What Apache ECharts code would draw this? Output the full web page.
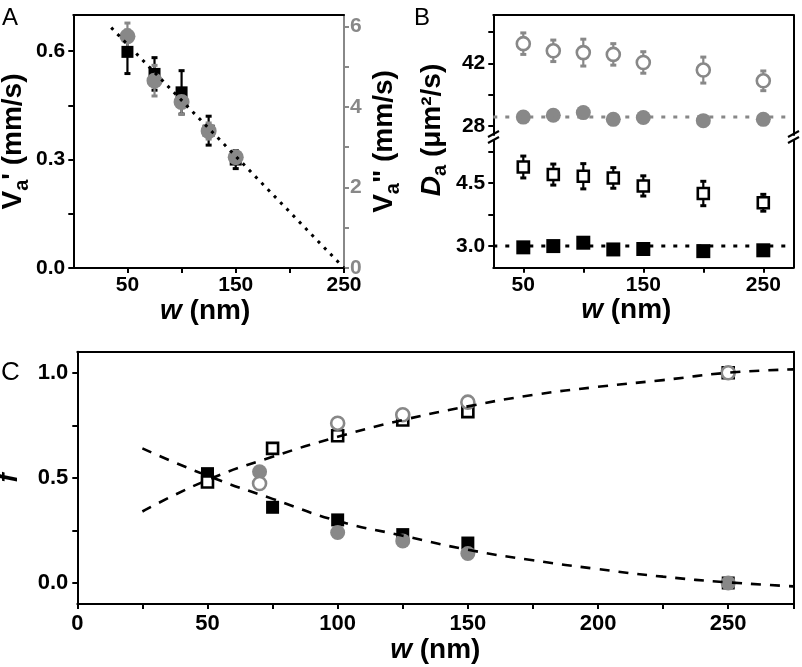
<!DOCTYPE html>
<html>
<head>
<meta charset="utf-8">
<script src="https://cdn.jsdelivr.net/npm/echarts@6/dist/echarts.min.js"></script>
<style>html,body{margin:0;padding:0;background:#fff}#c{width:802px;height:667px}</style>
</head>
<body>
<div id="c"></div>
<script>
// ---------- Panel A ----------
const wA = [50, 75, 100, 125, 150];
const vaPrime = [0.598, 0.537, 0.486, 0.38, 0.30];
const vaPrimeErr = [0.06, 0.045, 0.06, 0.04, 0.025];
const vaDouble = [5.75, 4.65, 4.12, 3.40, 2.75];
const vaDoubleErr = [0.33, 0.38, 0.31, 0.2, 0.15];
const fitAW = [35, 250];
const fitAV = [0.665, 0];
const ticksAX = [50, 100, 150, 200, 250];
const labelsAX = [50, 150, 250];
const ticksAY = [0, 0.15, 0.3, 0.45, 0.6];
const labelsAY = [0, 0.3, 0.6];
const ticksAY2 = [0, 1, 2, 3, 4, 5, 6];
const labelsAY2 = [0, 2, 4, 6];

// ---------- Panel B ----------
const wB = [50, 75, 100, 125, 150, 200, 250];
const dGrayOpen = [46.4, 44.8, 44.4, 44.0, 42.2, 40.5, 38.1];
const dGrayOpenErr = [2.4, 2.4, 3.0, 2.4, 2.4, 2.9, 2.2];
const dGrayFill = [30.0, 30.4, 31.0, 29.5, 29.9, 29.2, 29.5];
const dGrayFillErr = [0.5, 0.5, 1.0, 0.5, 0.5, 1.0, 0.5];
const dGrayLevel = 30.0;
const dBlackOpen = [4.88, 4.70, 4.66, 4.62, 4.43, 4.25, 4.03];
const dBlackOpenErr = [0.26, 0.25, 0.3, 0.245, 0.24, 0.29, 0.2];
const dBlackFill = [2.97, 3.0, 3.08, 2.92, 2.93, 2.88, 2.9];
const dBlackFillErr = [0.04, 0.04, 0.1, 0.04, 0.04, 0.08, 0.04];
const dBlackLevel = 3.0;
const ticksBX = [50, 100, 150, 200, 250];
const labelsBX = [50, 150, 250];
const ticksBUp = [28, 35, 42, 49];
const labelsBUp = [28, 42];
const ticksBLow = [3.0, 3.75, 4.5, 5.25];
const labelsBLow = [3.0, 4.5];

// ---------- Panel C ----------
const wC = [50, 75, 100, 125, 150, 250];
const fOpenSq = [0.48, 0.64, 0.70, 0.775, 0.815, 1.0];
const fFillSq = [0.52, 0.36, 0.30, 0.23, 0.19, 0.0];
const wC2 = [70, 100, 125, 150, 250];
const fOpenCirc = [0.473, 0.76, 0.80, 0.86, 1.0];
const fFillCirc = [0.529, 0.24, 0.20, 0.14, 0.0];
const fitCW = [25, 50, 75, 100, 125, 150, 175, 200, 225, 250, 275];
const fitCUp = [0.34, 0.49, 0.60, 0.695, 0.775, 0.84, 0.894, 0.933, 0.965, 1.0, 1.016];
const fitCDown = [0.64, 0.51, 0.40, 0.295, 0.225, 0.158, 0.108, 0.066, 0.03, 0.003, -0.016];
const ticksCX = [0, 25, 50, 75, 100, 125, 150, 175, 200, 225, 250, 275];
const labelsCX = [0, 50, 100, 150, 200, 250];
const ticksCY = [0, 0.25, 0.5, 0.75, 1.0];
const labelsCY = [0, 0.5, 1.0];

const FONT = "'Liberation Sans', Arial, sans-serif";
const GRAY = '#888888';
const BLACK = '#000000';

const zip = (xs, ys) => xs.map((x, i) => [x, ys[i]]);

function labelStyle(values, fmt, color, margin, size) {
  return {
    customValues: values, fontFamily: FONT, fontSize: size || 21, fontWeight: 'bold',
    color: color || BLACK, margin: margin == null ? 8 : margin,
    formatter: fmt
  };
}
function tickStyle(values, color) {
  return { show: true, customValues: values, inside: false, length: 5,
    lineStyle: { color: color || BLACK, width: 2 } };
}
function frameAxis(kind, gridIndex, pos, min, max, color) {
  return {
    type: 'value', gridIndex, position: pos, min, max,
    axisLine: { show: true, onZero: false, lineStyle: { color: color || BLACK, width: 2 } },
    axisTick: { show: false }, axisLabel: { show: false }, splitLine: { show: false }
  };
}
const nameRich = {
  b: { fontFamily: FONT, fontSize: 28, fontWeight: 'bold', color: BLACK },
  i: { fontFamily: FONT, fontSize: 28, fontWeight: 'bold', fontStyle: 'italic', color: BLACK },
  s: { fontFamily: FONT, fontSize: 20, fontWeight: 'bold', color: BLACK, padding: [17, 0, 0, 0] }
};
function nameStyle(extra) {
  return Object.assign({ fontFamily: FONT, fontSize: 28, fontWeight: 'bold', color: BLACK, rich: nameRich }, extra || {});
}

function errSeries(xi, yi, xs, ys, errs, color, cap) {
  return {
    type: 'custom', xAxisIndex: xi, yAxisIndex: yi, silent: true,
    data: xs.map((x, i) => [x, ys[i] - errs[i], ys[i] + errs[i]]),
    renderItem: function (params, api) {
      const lo = api.coord([api.value(0), api.value(1)]);
      const hi = api.coord([api.value(0), api.value(2)]);
      const c = cap || 3;
      const st = { stroke: color, lineWidth: 2.2 };
      return { type: 'group', children: [
        { type: 'line', shape: { x1: lo[0], y1: lo[1], x2: hi[0], y2: hi[1] }, style: st },
        { type: 'line', shape: { x1: lo[0] - c, y1: lo[1], x2: lo[0] + c, y2: lo[1] }, style: { stroke: color, lineWidth: 3 } },
        { type: 'line', shape: { x1: hi[0] - c, y1: hi[1], x2: hi[0] + c, y2: hi[1] }, style: { stroke: color, lineWidth: 3 } }
      ] };
    }
  };
}
function scatter(xi, yi, data, symbol, size, fill, stroke, bw) {
  return {
    type: 'scatter', xAxisIndex: xi, yAxisIndex: yi, data, symbol, symbolSize: size,
    silent: true,
    itemStyle: { color: fill, borderColor: stroke, borderWidth: bw || 0, opacity: 1 }
  };
}
function line(xi, yi, data, color, type, width, smooth) {
  return {
    type: 'line', xAxisIndex: xi, yAxisIndex: yi, data, symbol: 'none', silent: true,
    smooth: !!smooth, lineStyle: { color, type, width }
  };
}

const fmtInt = v => String(Math.round(v));
const fmt1 = v => v.toFixed(1);

// grid geometry
const gA = { left: 73.3, top: 15, width: 270.7, height: 253 };
const gBu = { left: 493.3, top: 15, width: 300, height: 120 };
const gBl = { left: 493.3, top: 140.5, width: 300, height: 127.2 };
const gC = { left: 77.3, top: 351.7, width: 716, height: 252.3 };

const option = {
  animation: false,
  backgroundColor: '#ffffff',
  grid: [gA, gBu, gBl, gC].map(g => Object.assign({ containLabel: false, outerBoundsMode: 'none', show: false }, g)),
  xAxis: [
    { // 0 A bottom
      type: 'value', gridIndex: 0, min: 0, max: 250, position: 'bottom',
      axisLine: { show: true, onZero: false, lineStyle: { color: BLACK, width: 2 } },
      axisTick: tickStyle(ticksAX), axisLabel: labelStyle(labelsAX, fmtInt, BLACK, 7),
      splitLine: { show: false },
      name: '{i|w} {b|(nm)}', nameLocation: 'middle', nameGap: 26,
      nameTextStyle: nameStyle({ padding: [0, 7, 0, 0] })
    },
    frameAxis('x', 0, 'top', 0, 250), // 1 A top frame
    frameAxis('x', 1, 'top', 25, 275), // 2 B upper frame (data axis)
    { // 3 B lower
      type: 'value', gridIndex: 2, min: 25, max: 275, position: 'bottom',
      axisLine: { show: true, onZero: false, lineStyle: { color: BLACK, width: 2 } },
      axisTick: tickStyle(ticksBX), axisLabel: labelStyle(labelsBX, fmtInt, BLACK, 7),
      splitLine: { show: false },
      name: '{i|w} {b|(nm)}', nameLocation: 'middle', nameGap: 26,
      nameTextStyle: nameStyle({ padding: [0, 34, 0, 0] })
    },
    { // 4 C bottom
      type: 'value', gridIndex: 3, min: 0, max: 275, position: 'bottom',
      axisLine: { show: true, onZero: false, lineStyle: { color: BLACK, width: 2 } },
      axisTick: tickStyle(ticksCX), axisLabel: labelStyle(labelsCX, fmtInt, BLACK, 9, 22),
      splitLine: { show: false },
      name: '{i|w} {b|(nm)}', nameLocation: 'middle', nameGap: 25,
      nameTextStyle: nameStyle()
    },
    frameAxis('x', 3, 'top', 0, 275) // 5 C top frame
  ],
  yAxis: [
    { // 0 A left
      type: 'value', gridIndex: 0, min: 0, max: 0.7, position: 'left',
      axisLine: { show: true, onZero: false, lineStyle: { color: BLACK, width: 2 } },
      axisTick: tickStyle(ticksAY), axisLabel: labelStyle(labelsAY, fmt1, BLACK, 8),
      splitLine: { show: false },
      name: '{b|V}{s|a}{b|\' (mm/s)}', nameLocation: 'middle', nameGap: 40, nameRotate: 90,
      nameTextStyle: nameStyle()
    },
    { // 1 A right (gray)
      type: 'value', gridIndex: 0, min: 0, max: 6.28, position: 'right',
      axisLine: { show: true, onZero: false, lineStyle: { color: GRAY, width: 2 } },
      axisTick: tickStyle(ticksAY2, GRAY), axisLabel: labelStyle(labelsAY2, fmtInt, GRAY, 6),
      splitLine: { show: false },
      name: '{b|V}{s|a}{b|" (mm/s)}', nameLocation: 'middle', nameGap: 22, nameRotate: 90,
      nameTextStyle: nameStyle()
    },
    { // 2 B upper left
      type: 'value', gridIndex: 1, min: 26.0, max: 52.8, position: 'left',
      axisLine: { show: true, onZero: false, lineStyle: { color: BLACK, width: 2 } },
      axisTick: tickStyle(ticksBUp), axisLabel: labelStyle(labelsBUp, fmtInt, BLACK, 8),
      splitLine: { show: false }
    },
    frameAxis('y', 1, 'right', 26.0, 52.8), // 3 B upper right frame
    { // 4 B lower left
      type: 'value', gridIndex: 2, min: 2.486, max: 5.51, position: 'left',
      axisLine: { show: true, onZero: false, lineStyle: { color: BLACK, width: 2 } },
      axisTick: tickStyle(ticksBLow), axisLabel: labelStyle(labelsBLow, fmt1, BLACK, 8),
      splitLine: { show: false }
    },
    frameAxis('y', 2, 'right', 2.486, 5.51), // 5 B lower right frame
    { // 6 C left
      type: 'value', gridIndex: 3, min: -0.1, max: 1.1, position: 'left',
      axisLine: { show: true, onZero: false, lineStyle: { color: BLACK, width: 2 } },
      axisTick: tickStyle(ticksCY), axisLabel: labelStyle(labelsCY, fmt1, BLACK, 9, 22),
      splitLine: { show: false },
      name: '{i|f}', nameLocation: 'middle', nameGap: 54, nameRotate: 90,
      nameTextStyle: nameStyle()
    },
    frameAxis('y', 3, 'right', -0.1, 1.1) // 7 C right frame
  ],
  series: [
    // Panel A
    errSeries(0, 0, wA, vaPrime, vaPrimeErr, BLACK, 3),
    scatter(0, 0, zip(wA, vaPrime), 'rect', 12, BLACK, BLACK, 0),
    errSeries(0, 1, wA, vaDouble, vaDoubleErr, GRAY, 3),
    scatter(0, 1, zip(wA, vaDouble), 'circle', 16, GRAY, GRAY, 0),
    line(0, 0, zip(fitAW, fitAV), BLACK, [3, 6], 3),
    // Panel B upper
    line(2, 2, [[25, dGrayLevel], [275, dGrayLevel]], GRAY, [4, 8], 3),
    errSeries(2, 2, wB, dGrayOpen, dGrayOpenErr, GRAY, 3),
    scatter(2, 2, zip(wB, dGrayOpen), 'circle', 13, '#ffffff', GRAY, 2.6),
    errSeries(2, 2, wB, dGrayFill, dGrayFillErr, GRAY, 3),
    scatter(2, 2, zip(wB, dGrayFill), 'circle', 15, GRAY, GRAY, 0),
    // Panel B lower
    line(3, 4, [[25, dBlackLevel], [275, dBlackLevel]], BLACK, [4, 8], 3),
    errSeries(3, 4, wB, dBlackOpen, dBlackOpenErr, BLACK, 3),
    scatter(3, 4, zip(wB, dBlackOpen), 'rect', 11, '#ffffff', BLACK, 2.6),
    errSeries(3, 4, wB, dBlackFill, dBlackFillErr, BLACK, 3),
    scatter(3, 4, zip(wB, dBlackFill), 'rect', 14, BLACK, BLACK, 0),
    // Panel C
    line(4, 6, zip(fitCW, fitCUp), BLACK, [10, 9], 2.6, true),
    line(4, 6, zip(fitCW, fitCDown), BLACK, [10, 9], 2.6, true),
    scatter(4, 6, zip(wC, fFillSq), 'rect', 13, BLACK, BLACK, 0),
    scatter(4, 6, zip(wC, fOpenSq), 'rect', 11, '#ffffff', BLACK, 2.6),
    scatter(4, 6, zip(wC2, fFillCirc), 'circle', 15, GRAY, GRAY, 0),
    scatter(4, 6, zip(wC2, fOpenCirc), 'circle', 13, '#ffffff', GRAY, 2.6)
  ],
  graphic: [
    { type: 'text', left: 2, top: 6, style: { text: 'A', fontFamily: FONT, fontSize: 24, fill: BLACK } },
    { type: 'text', left: 414, top: 6, style: { text: 'B', fontFamily: FONT, fontSize: 24, fill: BLACK } },
    { type: 'text', left: 1, top: 360, style: { text: 'C', fontFamily: FONT, fontSize: 26, fill: BLACK } },
    { type: 'text', x: 432, y: 130, rotation: Math.PI / 2,
      style: { text: '{i|D}{s|a}{b| (μm²/s)}', rich: nameRich, align: 'center', verticalAlign: 'middle',
        fontFamily: FONT, fontSize: 28, fontWeight: 'bold', fill: BLACK } },
    // axis break marks
    { type: 'group', children: [
      { type: 'line', shape: { x1: 488, y1: 137, x2: 499, y2: 131 }, style: { stroke: BLACK, lineWidth: 2 } },
      { type: 'line', shape: { x1: 488, y1: 143, x2: 499, y2: 137 }, style: { stroke: BLACK, lineWidth: 2 } },
      { type: 'line', shape: { x1: 788, y1: 137, x2: 799, y2: 131 }, style: { stroke: BLACK, lineWidth: 2 } },
      { type: 'line', shape: { x1: 788, y1: 143, x2: 799, y2: 137 }, style: { stroke: BLACK, lineWidth: 2 } }
    ] }
  ]
};

const chart = echarts.init(document.getElementById('c'), null, { renderer: 'canvas' });
chart.setOption(option);
</script>
</body>
</html>
